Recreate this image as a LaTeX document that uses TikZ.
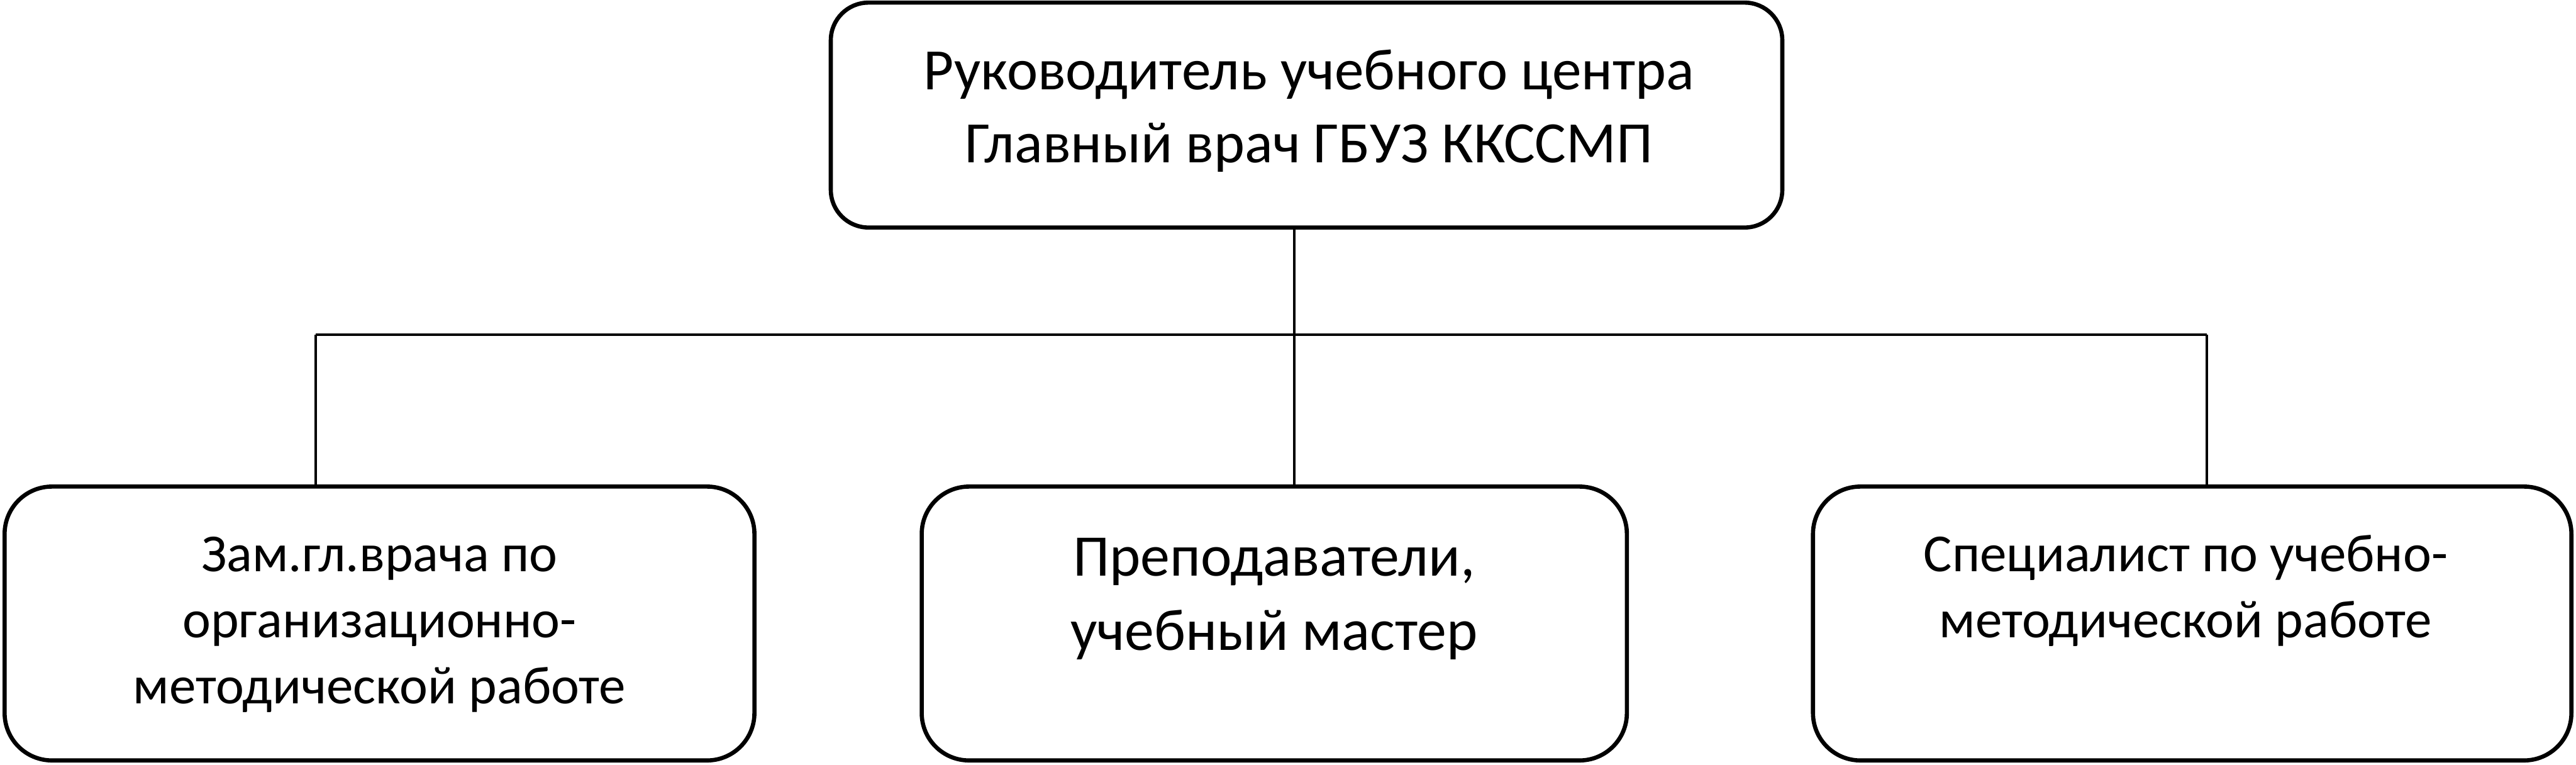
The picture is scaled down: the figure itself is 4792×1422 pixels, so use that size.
\documentclass[tikz,border=0pt]{standalone}
\usepackage{fontspec}
\setmainfont{Carlito}
\begin{document}
\begin{tikzpicture}[x=0.01cm, y=-0.01cm,
  box/.style={draw=black, line width=2.2pt, rounded corners=0.88cm, inner sep=0pt, outer sep=0pt, fill=white},
  conn/.style={draw=black, line width=1.4pt},
  txt/.style={inner sep=0pt, align=center, anchor=base},
  toptext/.style={font=\fontsize{31}{38.7}\selectfont},
  sidetext/.style={font=\fontsize{28.3}{34.9}\selectfont},
  midtext/.style={font=\fontsize{31.2}{39.3}\selectfont}]
\useasboundingbox[fill=white] (0,0) rectangle (4792,1422);

\node[box, rounded corners=0.7cm, minimum width=17.69cm, minimum height=4.18cm] (top) at (2430.5,214) {};
\node[box, minimum width=13.94cm, minimum height=5.09cm] (left) at (706,1159.5) {};
\node[box, minimum width=13.11cm, minimum height=5.09cm] (mid) at (2370.5,1159.5) {};
\node[box, minimum width=14.10cm, minimum height=5.09cm] (right) at (4078,1159.5) {};

\coordinate (jl) at (587,622);
\coordinate (jm) at (2408,622);
\coordinate (jr) at (4105,622);
\draw[conn] (jl) -- (jr);
\draw[conn] (top.south -| jm) -- (jm) -- (mid.north -| jm);
\draw[conn] (jl) -- (left.north -| jl);
\draw[conn] (jr) -- (right.north -| jr);

\node[txt, toptext] (ttop) at (2435,303) {Руководитель учебного центра\\Главный врач ГБУЗ ККССМП};
\node[txt, sidetext] (tleft) at (706,1308) {Зам.гл.врача по\\организационно-\\методической работе};
\node[txt, midtext] (tmid) at (2370,1209) {Преподаватели,\\учебный мастер};
\node[txt, sidetext] (tright) at (4066,1186) {Специалист по учебно-\\методической работе};
\end{tikzpicture}
\end{document}
